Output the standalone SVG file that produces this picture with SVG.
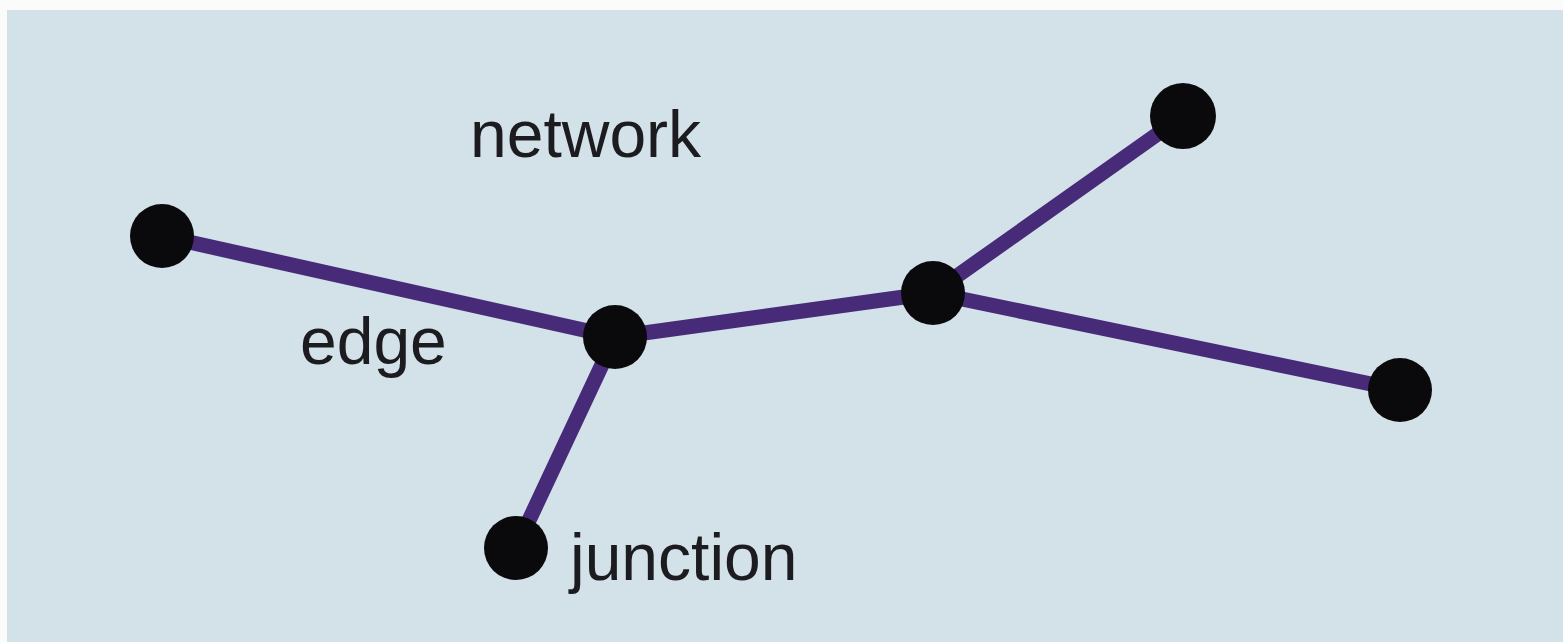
<svg xmlns="http://www.w3.org/2000/svg" width="1563" height="642" viewBox="0 0 1563 642">
<style>
.lbl{font-family:"Liberation Sans",Arial,sans-serif;font-size:66px;fill:#1c1c20}
.edge{stroke:#472a78;stroke-width:15;stroke-linecap:round}
.node{fill:#0a0a0c}
</style>
<rect x="0" y="0" width="1563" height="642" fill="#fbfbfb"/>
<rect x="7" y="10" width="1556" height="632" fill="#d3e1e8"/>
<g id="connectors">
<line class="edge" x1="162" y1="236" x2="615" y2="337"/>
<line class="edge" x1="615" y1="337" x2="933" y2="293"/>
<line class="edge" x1="615" y1="337" x2="516" y2="548"/>
<line class="edge" x1="933" y1="293" x2="1183" y2="116"/>
<line class="edge" x1="933" y1="293" x2="1400" y2="390"/>
</g>
<g id="n1"><circle class="node" cx="162" cy="236" r="32"/></g>
<g id="n2"><circle class="node" cx="615" cy="337" r="32"/></g>
<g id="n3"><circle class="node" cx="933" cy="293" r="32"/></g>
<g id="n4"><circle class="node" cx="1183" cy="116" r="33"/></g>
<g id="n5"><circle class="node" cx="1400" cy="390" r="32"/></g>
<g id="n6"><circle class="node" cx="516" cy="548" r="32"/></g>
<g id="labels">
<text class="lbl" x="470" y="157">network</text>
<text class="lbl" x="300" y="364">edge</text>
<text class="lbl" x="570" y="580">junction</text>
</g>
</svg>
